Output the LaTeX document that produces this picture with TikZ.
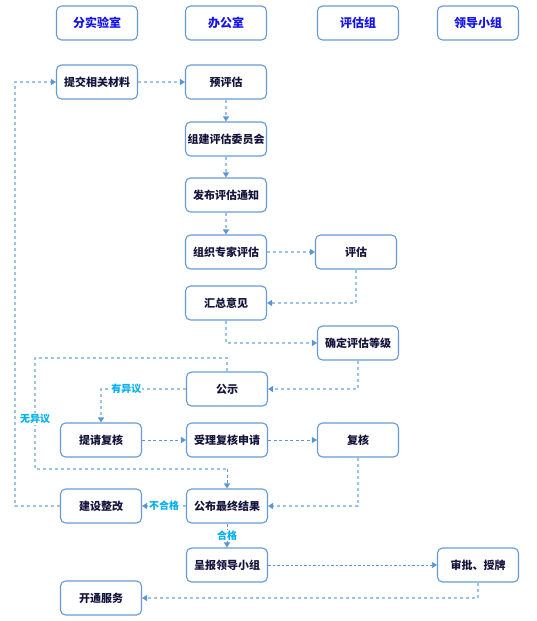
\documentclass[tikz,border=0pt]{standalone}
\usepackage{fontspec}
\setmainfont{Noto Sans CJK SC}
\usetikzlibrary{arrows.meta}
\definecolor{boxline}{RGB}{100,155,215}
\definecolor{lightdash}{RGB}{157,195,230}
\definecolor{darkdash}{RGB}{91,150,210}
\definecolor{headtext}{RGB}{20,20,235}
\definecolor{boxtext}{RGB}{20,20,60}
\definecolor{labeltext}{RGB}{0,176,240}
\tikzset{
  box/.style={draw=boxline, line width=1.1pt, rounded corners=5pt, fill=white,
    minimum width=81pt, minimum height=34pt, inner sep=0pt, text=boxtext,
    font=\fontsize{11}{13}\selectfont\bfseries},
  headbox/.style={box, text=headtext, font=\fontsize{12}{14}\selectfont\bfseries},
  tip/.style={-{Triangle[width=6pt,length=5pt,color=darkdash]}},
  lconn/.style={tip, draw=lightdash, line width=1.2pt, dash pattern=on 3pt off 3pt},
  dconn/.style={tip, draw=darkdash, line width=0.8pt, dash pattern=on 3pt off 2.5pt},
  lline/.style={draw=lightdash, line width=1.2pt, dash pattern=on 3pt off 3pt},
  lab/.style={text=labeltext, fill=white, inner sep=1pt, font=\fontsize{10}{12}\selectfont\bfseries}
}
\begin{document}
\begin{tikzpicture}[x=1pt,y=-1pt]
\useasboundingbox (0,0) rectangle (536,621);
% headers
\node[headbox] (h1) at (97,23) {分实验室};
\node[headbox] (h2) at (226,23) {办公室};
\node[headbox] (h3) at (358,23) {评估组};
\node[headbox] (h4) at (478,23) {领导小组};
% nodes
\node[box] (tijiao) at (97,82) {提交相关材料};
\node[box] (yupinggu) at (226,82) {预评估};
\node[box] (zujian) at (226,139) {组建评估委员会};
\node[box] (fabu) at (226,195) {发布评估通知};
\node[box] (zuzhi) at (226,252) {组织专家评估};
\node[box] (pinggu) at (356,252) {评估};
\node[box] (huizong) at (226,303) {汇总意见};
\node[box] (queding) at (358,343) {确定评估等级};
\node[box] (gongshi) at (227,389) {公示};
\node[box] (tiqing) at (101,440) {提请复核};
\node[box] (shouli) at (227,440) {受理复核申请};
\node[box] (fuhe) at (358,440) {复核};
\node[box] (jianshe) at (101,506) {建设整改};
\node[box] (gongbu) at (227,506) {公布最终结果};
\node[box] (chengbao) at (227,565) {呈报领导小组};
\node[box] (shenpi) at (478,565) {审批、授牌};
\node[box] (kaitong) at (101,598) {开通服务};
% coordinates
\coordinate (loopA) at (227,358);
\coordinate (loopB) at (35,358);
\coordinate (loopC) at (35,469);
\coordinate (loopD) at (227,469);
\coordinate (outA) at (15,506);
\coordinate (outB) at (15,82);
% connectors
\draw[lconn] (tijiao.east) -- (yupinggu.west);
\draw[lconn] (yupinggu.south) -- (zujian.north);
\draw[lconn] (zujian.south) -- (fabu.north);
\draw[lconn] (fabu.south) -- (zuzhi.north);
\draw[lconn] (zuzhi.east) -- (pinggu.west);
\draw[lconn] (pinggu.south) |- (huizong.east);
\draw[lconn] (huizong.south) |- (queding.west);
\draw[lconn] (queding.south) |- (gongshi.east);
\draw[lconn] (gongshi.west) -| node[lab, pos=0.35] (l1) {有异议} (tiqing.north);
\draw[lline] (gongshi.north) -- (loopA) -- (loopB) -- node[lab, pos=0.55] (l2) {无异议} (loopC) -- (loopD);
\draw[dconn] (loopD) -- (gongbu.north);
\draw[dconn] (tiqing.east) -- (shouli.west);
\draw[dconn] (shouli.east) -- (fuhe.west);
\draw[lconn] (fuhe.south) |- (gongbu.east);
\draw[lconn] (gongbu.west) -- node[lab] (l3) {不合格} (jianshe.east);
\draw[lconn] (jianshe.west) -- (outA) -- (outB) -- (tijiao.west);
\draw[dconn] (gongbu.south) -- node[lab] (l4) {合格} (chengbao.north);
\draw[dconn, dash pattern=on 2.5pt off 2pt, line width=0.7pt] (chengbao.east) -- (shenpi.west);
\draw[lconn] (shenpi.south) |- (kaitong.east);
\end{tikzpicture}
\end{document}
